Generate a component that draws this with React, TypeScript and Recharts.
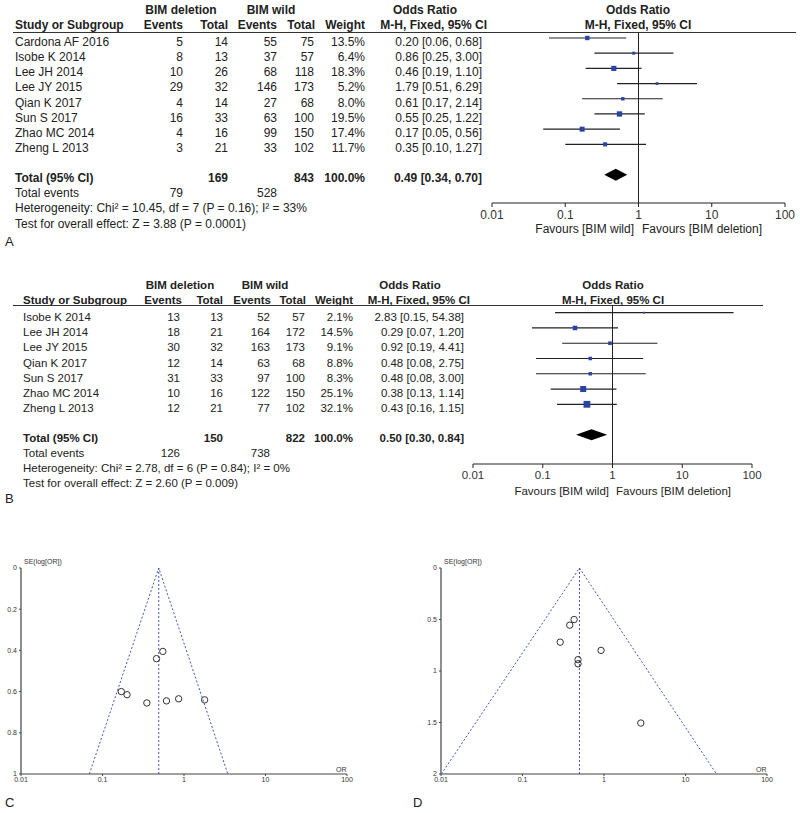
import React from "react";
import {
  Area,
  ComposedChart,
  ErrorBar,
  ReferenceLine,
  Scatter,
  ScatterChart,
  XAxis,
  YAxis,
} from "recharts";

const FONT = "'Liberation Sans', Arial, sans-serif";

// ---- Panel A: BIM deletion vs wild (first outcome) ----
const studiesA = [
  "Cardona AF 2016",
  "Isobe K 2014",
  "Lee JH 2014",
  "Lee JY 2015",
  "Qian K 2017",
  "Sun S 2017",
  "Zhao MC 2014",
  "Zheng L 2013",
];
const delEventsA = [5, 8, 10, 29, 4, 16, 4, 3];
const delTotalA = [14, 13, 26, 32, 14, 33, 16, 21];
const wildEventsA = [55, 37, 68, 146, 27, 63, 99, 33];
const wildTotalA = [75, 57, 118, 173, 68, 100, 150, 102];
const weightA = [13.5, 6.4, 18.3, 5.2, 8.0, 19.5, 17.4, 11.7];
const orA = [0.2, 0.86, 0.46, 1.79, 0.61, 0.55, 0.17, 0.35];
const loA = [0.06, 0.25, 0.19, 0.51, 0.17, 0.25, 0.05, 0.1];
const hiA = [0.68, 3.0, 1.1, 6.29, 2.14, 1.22, 0.56, 1.27];
const pooledA = [0.49, 0.34, 0.7];
const totalsA = ["169", "843", "100.0%", "0.49 [0.34, 0.70]"];
const eventsA = ["79", "528"];
const hetA = "Heterogeneity: Chi² = 10.45, df = 7 (P = 0.16); I² = 33%";
const testA = "Test for overall effect: Z = 3.88 (P = 0.0001)";
const seA = [0.615, 0.635, 0.44, 0.64, 0.645, 0.405, 0.6, 0.655];
const funnelA = [0.069, 0.49, 3.45];

// ---- Panel B: second outcome ----
const studiesB = [
  "Isobe K 2014",
  "Lee JH 2014",
  "Lee JY 2015",
  "Qian K 2017",
  "Sun S 2017",
  "Zhao MC 2014",
  "Zheng L 2013",
];
const delEventsB = [13, 18, 30, 12, 31, 10, 12];
const delTotalB = [13, 21, 32, 14, 33, 16, 21];
const wildEventsB = [52, 164, 163, 63, 97, 122, 77];
const wildTotalB = [57, 172, 173, 68, 100, 150, 102];
const weightB = [2.1, 14.5, 9.1, 8.8, 8.3, 25.1, 32.1];
const orB = [2.83, 0.29, 0.92, 0.48, 0.48, 0.38, 0.43];
const loB = [0.15, 0.07, 0.19, 0.08, 0.08, 0.13, 0.16];
const hiB = [54.38, 1.2, 4.41, 2.75, 3.0, 1.14, 1.15];
const pooledB = [0.5, 0.3, 0.84];
const totalsB = ["150", "822", "100.0%", "0.50 [0.30, 0.84]"];
const eventsB = ["126", "738"];
const hetB = "Heterogeneity: Chi² = 2.78, df = 6 (P = 0.84); I² = 0%";
const testB = "Test for overall effect: Z = 2.60 (P = 0.009)";
const seB = [1.505, 0.72, 0.8, 0.89, 0.93, 0.555, 0.5];
const funnelB = [0.0101, 0.5, 24];

const orTicks = [0.01, 0.1, 1, 10, 100];
const seTicksC = [0, 0.2, 0.4, 0.6, 0.8, 1];
const seTicksD = [0, 0.5, 1, 1.5, 2];

type Align = "left" | "right" | "center";

function T({
  x,
  y,
  align = "left",
  bold = false,
  size = 12,
  color = "#222",
  children,
}: {
  x: number;
  y: number;
  align?: Align;
  bold?: boolean;
  size?: number;
  color?: string;
  children: React.ReactNode;
}) {
  const style: React.CSSProperties = {
    position: "absolute",
    top: y - 8,
    height: 16,
    lineHeight: "16px",
    fontSize: size,
    fontWeight: bold ? 700 : 400,
    color,
    whiteSpace: "nowrap",
    fontFamily: FONT,
  };
  if (align === "left") style.left = x;
  else if (align === "right") style.right = 800 - x;
  else {
    style.left = x - 150;
    style.width = 300;
    style.textAlign = "center";
  }
  return <div style={style}>{children}</div>;
}

interface ForestLayout {
  size: number;
  cols: number[]; // study, ev, tot, wev, wtot, weight, or (right edges except study)
  hdr: number[]; // ev, tot, wev, wtot, weight, orHdr right edges
  h1: number;
  h2: number;
  line: number;
  lineX: [number, number];
  delC: number;
  wildC: number;
  orC: number;
  plotC: number;
  rowY0: number;
  rowStep: number;
  totalY: number;
  eventsY: number;
  hetY: number;
  testY: number;
  favY: number;
  favSplit: [number, number];
  chart: { left: number; top: number; width: number; height: number; mt: number; mr: number; ml: number; xh: number };
  yDomain: [number, number];
  totalRow: number;
  dHalf: number;
}

interface ForestData {
  names: string[];
  de: number[];
  dt: number[];
  we: number[];
  wt: number[];
  w: number[];
  or: number[];
  lo: number[];
  hi: number[];
  pooled: number[];
  totals: string[];
  events: string[];
  het: string;
  test: string;
}

function fmt2(v: number) {
  return v.toFixed(2);
}

function Square(props: any) {
  const { cx, cy, payload } = props;
  if (cx == null || cy == null) return <g />;
  const s = Math.max(1.8, 1.2 * Math.sqrt(payload.w));
  return <rect x={cx - s / 2} y={cy - s / 2} width={s} height={s} fill="#2a44a6" />;
}

function Forest({ d, L }: { d: ForestData; L: ForestLayout }) {
  const [cStudy, cEv, cTot, cWev, cWtot, cWgt, cOr] = L.cols;
  const [hEv, hTot, hWev, hWtot, hWgt, hOr] = L.hdr;
  const rows = d.names.map((n, i) => ({
    x: d.or[i],
    y: i + 1,
    err: [d.or[i] - d.lo[i], d.hi[i] - d.or[i]],
    w: d.w[i],
  }));
  const [pOr, pLo, pHi] = d.pooled;
  const diamond = [
    { x: pLo, r: [L.totalRow, L.totalRow] },
    { x: pOr, r: [L.totalRow - L.dHalf, L.totalRow + L.dHalf] },
    { x: pHi, r: [L.totalRow, L.totalRow] },
  ];
  const s = L.size;
  const c = L.chart;
  return (
    <>
      <T x={L.delC} y={L.h1} align="center" bold size={s}>BIM deletion</T>
      <T x={L.wildC} y={L.h1} align="center" bold size={s}>BIM wild</T>
      <T x={L.orC} y={L.h1} align="center" bold size={s}>Odds Ratio</T>
      <T x={L.plotC} y={L.h1} align="center" bold size={s}>Odds Ratio</T>
      <T x={cStudy} y={L.h2} bold size={s}>Study or Subgroup</T>
      <T x={hEv} y={L.h2} align="right" bold size={s}>Events</T>
      <T x={hTot} y={L.h2} align="right" bold size={s}>Total</T>
      <T x={hWev} y={L.h2} align="right" bold size={s}>Events</T>
      <T x={hWtot} y={L.h2} align="right" bold size={s}>Total</T>
      <T x={hWgt} y={L.h2} align="right" bold size={s}>Weight</T>
      <T x={hOr} y={L.h2} align="right" bold size={s}>M-H, Fixed, 95% CI</T>
      <T x={L.plotC} y={L.h2} align="center" bold size={s}>M-H, Fixed, 95% CI</T>
      <div
        style={{
          position: "absolute",
          left: L.lineX[0],
          width: L.lineX[1] - L.lineX[0],
          top: L.line,
          height: 1,
          background: "#333",
        }}
      />
      {d.names.map((n, i) => {
        const y = L.rowY0 + i * L.rowStep;
        return (
          <React.Fragment key={n}>
            <T x={cStudy} y={y} size={s}>{n}</T>
            <T x={cEv} y={y} align="right" size={s}>{d.de[i]}</T>
            <T x={cTot} y={y} align="right" size={s}>{d.dt[i]}</T>
            <T x={cWev} y={y} align="right" size={s}>{d.we[i]}</T>
            <T x={cWtot} y={y} align="right" size={s}>{d.wt[i]}</T>
            <T x={cWgt} y={y} align="right" size={s}>{d.w[i].toFixed(1)}%</T>
            <T x={cOr} y={y} align="right" size={s}>
              {`${fmt2(d.or[i])} [${fmt2(d.lo[i])}, ${fmt2(d.hi[i])}]`}
            </T>
          </React.Fragment>
        );
      })}
      <T x={cStudy} y={L.totalY} bold size={s}>Total (95% CI)</T>
      <T x={cTot} y={L.totalY} align="right" bold size={s}>{d.totals[0]}</T>
      <T x={cWtot} y={L.totalY} align="right" bold size={s}>{d.totals[1]}</T>
      <T x={cWgt} y={L.totalY} align="right" bold size={s}>{d.totals[2]}</T>
      <T x={cOr} y={L.totalY} align="right" bold size={s}>{d.totals[3]}</T>
      <T x={cStudy} y={L.eventsY} size={s}>Total events</T>
      <T x={cEv} y={L.eventsY} align="right" size={s}>{d.events[0]}</T>
      <T x={cWev} y={L.eventsY} align="right" size={s}>{d.events[1]}</T>
      <T x={cStudy} y={L.hetY} size={s}>{d.het}</T>
      <T x={cStudy} y={L.testY} size={s}>{d.test}</T>
      <T x={L.favSplit[0]} y={L.favY} align="right" size={s}>Favours [BIM wild]</T>
      <T x={L.favSplit[1]} y={L.favY} size={s}>Favours [BIM deletion]</T>
      <div style={{ position: "absolute", left: c.left, top: c.top }}>
        <ComposedChart
          width={c.width}
          height={c.height}
          data={diamond}
          margin={{ top: c.mt, right: c.mr, left: c.ml, bottom: 0 }}
        >
          <XAxis
            dataKey="x"
            type="number"
            scale="log"
            domain={[0.01, 100]}
            allowDataOverflow
            ticks={orTicks}
            interval={0}
            height={c.xh}
            stroke="#222"
            tickSize={4}
            tickMargin={3}
            tick={{ fontSize: s, fill: "#333", fontFamily: FONT }}
          />
          <YAxis dataKey="y" type="number" domain={L.yDomain} allowDataOverflow reversed hide />
          <ReferenceLine x={1} stroke="#222" strokeWidth={1} />
          <Area
            dataKey="r"
            type="linear"
            stroke="none"
            fill="#000"
            fillOpacity={1}
            isAnimationActive={false}
            dot={false}
            activeDot={false}
          />
          <Scatter data={rows} shape={<Square />} isAnimationActive={false}>
            <ErrorBar dataKey="err" direction="x" width={0} stroke="#222" strokeWidth={1.2} />
          </Scatter>
        </ComposedChart>
      </div>
    </>
  );
}

function OpenCircle(props: any) {
  const { cx, cy } = props;
  if (cx == null || cy == null) return <g />;
  return <circle cx={cx} cy={cy} r={3.2} fill="none" stroke="#333" strokeWidth={1} />;
}

function Funnel({
  left,
  or,
  se,
  limits,
  yMax,
  yTicks,
}: {
  left: number;
  or: number[];
  se: number[];
  limits: number[];
  yMax: number;
  yTicks: number[];
}) {
  const pts = or.map((v, i) => ({ x: v, y: se[i] }));
  const [lo, pooled, hi] = limits;
  const lines = [
    { x: lo, y: yMax },
    { x: pooled, y: 0 },
    { x: hi, y: yMax },
  ];
  const tickStyle = { fontSize: 7, fill: "#333", fontFamily: FONT };
  return (
    <div style={{ position: "absolute", left, top: 550 }}>
      <ScatterChart width={380} height={250} margin={{ top: 18, right: 33, left: 6, bottom: 6 }}>
        <ReferenceLine x={pooled} stroke="#3f55bd" strokeDasharray="2 2" strokeWidth={1} />
        <Scatter
          data={lines}
          line={{ stroke: "#3f55bd", strokeDasharray: "2 2", strokeWidth: 1 }}
          shape={() => <g />}
          isAnimationActive={false}
        />
        <Scatter data={pts} shape={<OpenCircle />} isAnimationActive={false} />
        <XAxis
          dataKey="x"
          type="number"
          scale="log"
          domain={[0.01, 100]}
          allowDataOverflow
          ticks={orTicks}
          interval={0}
          height={20}
          stroke="#444"
          axisLine={{ stroke: "#444", strokeWidth: 1.2 }}
          tickSize={2}
          tickMargin={1}
          tick={tickStyle}
        />
        <YAxis
          dataKey="y"
          type="number"
          domain={[0, yMax]}
          allowDataOverflow
          reversed
          ticks={yTicks}
          interval={0}
          width={15}
          stroke="#444"
          axisLine={{ stroke: "#444", strokeWidth: 1.2 }}
          tickSize={2}
          tickMargin={2}
          tick={tickStyle}
        />
      </ScatterChart>
    </div>
  );
}

const layoutA: ForestLayout = {
  size: 12,
  cols: [15, 183, 228, 277, 314, 365, 482],
  hdr: [183, 228, 277, 315, 365, 487],
  h1: 10,
  h2: 25,
  line: 32,
  lineX: [13, 796],
  delC: 181,
  wildC: 271,
  orC: 425,
  plotC: 638,
  rowY0: 42,
  rowStep: 15.15,
  totalY: 178,
  eventsY: 193,
  hetY: 208,
  testY: 224,
  favY: 229,
  favSplit: [634, 642],
  chart: { left: 480, top: 20, width: 320, height: 220, mt: 12, mr: 15, ml: 12, xh: 37 },
  yDomain: [0.605, 11.86],
  totalRow: 10,
  dHalf: 0.4,
};

const layoutB: ForestLayout = {
  size: 11.5,
  cols: [23, 180, 223, 270, 305, 353, 464],
  hdr: [182, 223, 271, 306, 353, 470],
  h1: 285,
  h2: 300,
  line: 305,
  lineX: [13, 763],
  delC: 180,
  wildC: 265,
  orC: 410,
  plotC: 613,
  rowY0: 317,
  rowStep: 15.2,
  totalY: 438,
  eventsY: 453,
  hetY: 468,
  testY: 483,
  favY: 491,
  favSplit: [609, 616],
  chart: { left: 460, top: 295, width: 310, height: 200, mt: 10, mr: 18, ml: 13, xh: 31 },
  yDomain: [0.496, 10.91],
  totalRow: 9,
  dHalf: 0.36,
};

const dataA: ForestData = {
  names: studiesA,
  de: delEventsA,
  dt: delTotalA,
  we: wildEventsA,
  wt: wildTotalA,
  w: weightA,
  or: orA,
  lo: loA,
  hi: hiA,
  pooled: pooledA,
  totals: totalsA,
  events: eventsA,
  het: hetA,
  test: testA,
};

const dataB: ForestData = {
  names: studiesB,
  de: delEventsB,
  dt: delTotalB,
  we: wildEventsB,
  wt: wildTotalB,
  w: weightB,
  or: orB,
  lo: loB,
  hi: hiB,
  pooled: pooledB,
  totals: totalsB,
  events: eventsB,
  het: hetB,
  test: testB,
};

export default function App() {
  return (
    <div style={{ position: "relative", width: 800, height: 813, background: "#fff", overflow: "hidden" }}>
      <style>{"body{margin:0}"}</style>
      <Forest d={dataA} L={layoutA} />
      <Forest d={dataB} L={layoutB} />
      <Funnel left={0} or={orA} se={seA} limits={funnelA} yMax={1} yTicks={seTicksC} />
      <Funnel left={420} or={orB} se={seB} limits={funnelB} yMax={2} yTicks={seTicksD} />
      <T x={24} y={562} size={7} color="#333">SE(log[OR])</T>
      <T x={444} y={562} size={7} color="#333">SE(log[OR])</T>
      <T x={336} y={770} size={7} color="#333">OR</T>
      <T x={756} y={770} size={7} color="#333">OR</T>
      <T x={5} y={242} size={13}>A</T>
      <T x={5} y={499} size={13}>B</T>
      <T x={5} y={803} size={13}>C</T>
      <T x={413} y={803} size={13}>D</T>
    </div>
  );
}
